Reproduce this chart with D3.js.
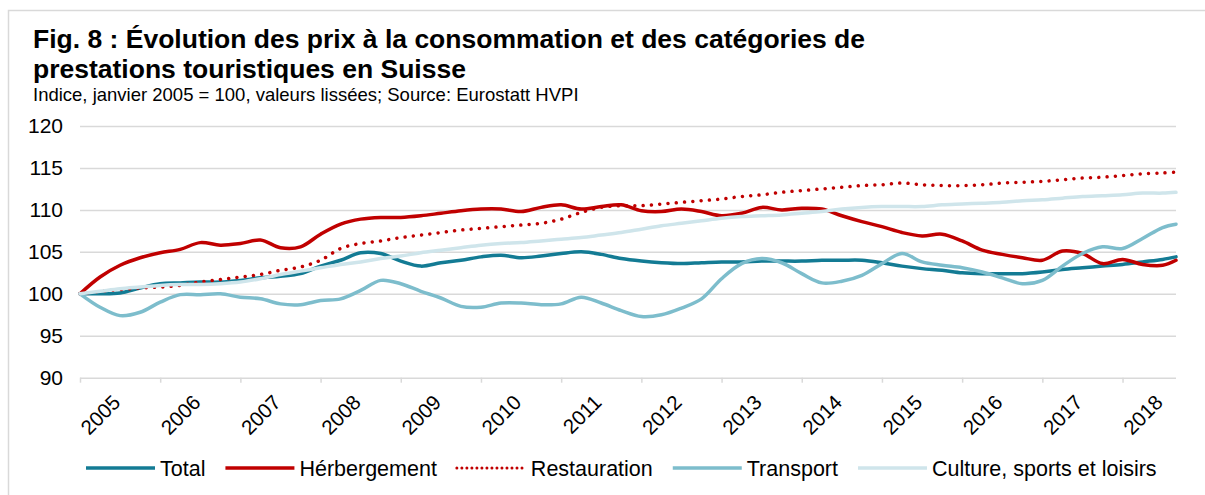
<!DOCTYPE html>
<html>
<head>
<meta charset="utf-8">
<script src="https://cdn.jsdelivr.net/npm/d3@7"></script>
<style>
  body { margin: 0; background: #fff; }
  svg { font-family: "Liberation Sans", Arial, sans-serif; }
  .grid line { stroke: #d9d9d9; stroke-width: 1.5; }
  .grid .domain { display: none; }
  .tick text { fill: #000; }
</style>
</head>
<body>
<div id="chart"></div>
<script>
//Chart data, quarterly readings (months since Jan 2005), last point Sep 2018
var months = d3.range(0, 163, 3).concat([164]);
var years = d3.range(2005, 2019);
var yTicks = [90, 95, 100, 105, 110, 115, 120];

var total = [
  100.0, 100.0, 100.1, 100.7,
  101.2, 101.3, 101.4, 101.4,
  101.6, 101.9, 102.1, 102.4,
  103.3, 104.0, 104.9, 104.8,
  103.9, 103.3, 103.7, 104.0,
  104.4, 104.6, 104.3, 104.5,
  104.8, 105.0, 104.7, 104.2,
  103.9, 103.7, 103.6, 103.7,
  103.8, 103.8, 103.9, 103.9,
  103.9, 104.0, 104.0, 104.0,
  103.7, 103.3, 103.0, 102.8,
  102.5, 102.4, 102.4, 102.4,
  102.6, 102.9, 103.1, 103.3,
  103.5, 103.8, 104.1, 104.4
];

var hebergement = [
  100.0, 102.0, 103.4, 104.3,
  104.9, 105.3, 106.1, 105.8,
  106.0, 106.4, 105.5, 105.6,
  107.1, 108.3, 108.9, 109.1,
  109.1, 109.3, 109.6, 109.9,
  110.1, 110.1, 109.8, 110.3,
  110.6, 110.1, 110.4, 110.6,
  109.9, 109.8, 110.1, 109.8,
  109.3, 109.6, 110.3, 110.0,
  110.2, 110.1, 109.3, 108.6,
  108.0, 107.3, 106.9, 107.1,
  106.3, 105.2, 104.7, 104.3,
  104.0, 105.1, 104.8, 103.6,
  104.1, 103.5, 103.4, 104.0
];

var restauration = [
  100.0, 100.3, 100.5, 100.7,
  100.8, 101.0, 101.4, 101.7,
  102.0, 102.3, 102.8, 103.2,
  104.0, 105.4, 106.0, 106.3,
  106.7, 107.0, 107.3, 107.6,
  107.8, 108.0, 108.2, 108.4,
  108.9, 109.7, 110.3, 110.5,
  110.5, 110.7, 110.9, 111.1,
  111.3, 111.6, 111.8, 112.1,
  112.3, 112.5, 112.7, 112.9,
  113.0, 113.2, 113.0, 112.9,
  112.9, 113.0, 113.2, 113.3,
  113.4, 113.6, 113.8, 113.9,
  114.1, 114.3, 114.4, 114.5
];

var transport = [
  100.0, 98.4, 97.4, 97.8,
  99.0, 99.9, 99.9, 100.0,
  99.6, 99.4, 98.8, 98.7,
  99.2, 99.4, 100.4, 101.6,
  101.2, 100.3, 99.5, 98.5,
  98.4, 98.9, 98.9, 98.7,
  98.8, 99.6, 98.9, 98.0,
  97.3, 97.5, 98.3, 99.4,
  101.8, 103.6, 104.2, 103.7,
  102.4, 101.3, 101.5, 102.2,
  103.6, 104.8, 103.8, 103.4,
  103.1, 102.6, 101.9, 101.2,
  101.6, 103.3, 104.8, 105.6,
  105.4, 106.6, 107.9, 108.3
];

var culture = [
  100.0, 100.3, 100.6, 100.8,
  101.0, 101.1, 101.1, 101.2,
  101.4, 101.8, 102.3, 102.7,
  103.1, 103.5, 103.8, 104.2,
  104.5, 104.9, 105.2, 105.5,
  105.8, 106.0, 106.1, 106.3,
  106.5, 106.7, 107.0, 107.3,
  107.7, 108.1, 108.4, 108.7,
  109.0, 109.2, 109.3, 109.4,
  109.6, 109.8, 110.1, 110.3,
  110.4, 110.4, 110.4, 110.6,
  110.7, 110.8, 110.9, 111.1,
  111.2, 111.4, 111.6, 111.7,
  111.8, 112.0, 112.0, 112.1
];

var seriesNames = ["Total", "Hérbergement", "Restauration", "Transport", "Culture, sports et loisirs"];
var seriesValues = [total, hebergement, restauration, transport, culture];
var seriesColors = ["#137b94", "#c00000", "#c00000", "#7dbdcc", "#cfe5eb"];
var seriesDotted = [false, false, true, false, false];

var series = seriesNames.map(function(name, i) {
  return {
    name: name,
    color: seriesColors[i],
    dotted: seriesDotted[i],
    values: months.map(function(m, j) { return { m: m, v: seriesValues[i][j] }; })
  };
});

//Setup SVG size vars
var W = 1205, H = 495;
var plot = { left: 80, right: 1176, top: 126, bottom: 377.7 };

var svg = d3.select("#chart").append("svg")
  .attr("width", W)
  .attr("height", H);

//Frame
svg.append("rect")
  .attr("x", 8.5).attr("y", 10.5)
  .attr("width", 1300).attr("height", 600)
  .attr("fill", "none")
  .attr("stroke", "#d9d9d9")
  .attr("stroke-width", 1.5);

//Titles
svg.append("text").attr("x", 33).attr("y", 48)
  .style("font-size", "26.5px").style("font-weight", "bold")
  .text("Fig. 8 : Évolution des prix à la consommation et des catégories de");
svg.append("text").attr("x", 33).attr("y", 78)
  .style("font-size", "26.5px").style("font-weight", "bold")
  .text("prestations touristiques en Suisse");
svg.append("text").attr("x", 33).attr("y", 101)
  .style("font-size", "18.5px")
  .text("Indice, janvier 2005 = 100, valeurs lissées; Source: Eurostatt HVPI");

var x = d3.scaleLinear().domain([0, 164]).range([plot.left, plot.right]);
var y = d3.scaleLinear().domain([90, 120]).range([plot.bottom, plot.top]);

//Y gridlines + labels
var yAxis = d3.axisLeft(y)
  .tickValues(yTicks)
  .tickSize(-(plot.right - plot.left))
  .tickPadding(17)
  .tickFormat(d3.format("d"));

svg.append("g")
  .attr("class", "grid")
  .attr("transform", "translate(" + plot.left + ",0)")
  .call(yAxis)
  .selectAll("text")
  .style("font-size", "21px");

//X axis tick marks at year boundaries
var xTicks = d3.axisBottom(x)
  .tickValues(years.map(function(yr, i) { return i * 12; }))
  .tickSize(5)
  .tickFormat("");

svg.append("g")
  .attr("class", "grid")
  .attr("transform", "translate(0," + plot.bottom + ")")
  .call(xTicks);

//Year labels centred in each year, rotated
var xLabels = d3.axisBottom(x)
  .tickValues(years.map(function(yr, i) { return i * 12 + 6; }))
  .tickSize(0)
  .tickFormat(function(d, i) { return years[i]; });

var gx = svg.append("g")
  .attr("transform", "translate(0," + plot.bottom + ")")
  .call(xLabels);
gx.select(".domain").remove();
gx.selectAll(".tick text")
  .attr("x", 0).attr("y", 0).attr("dy", 0)
  .attr("transform", "translate(1,26) rotate(-45)")
  .style("text-anchor", "end")
  .style("font-size", "20.5px");

//Lines
var line = d3.line()
  .curve(d3.curveCatmullRom.alpha(0.5))
  .x(function(d) { return x(d.m); })
  .y(function(d) { return y(d.v); });

svg.selectAll(".series")
  .data(series)
  .enter()
  .append("path")
  .attr("class", "series")
  .attr("d", function(d) { return line(d.values); })
  .attr("fill", "none")
  .attr("stroke", function(d) { return d.color; })
  .attr("stroke-width", 3.5)
  .attr("stroke-linecap", "round")
  .attr("stroke-dasharray", function(d) { return d.dotted ? "0.01 8.3" : null; });

//Legend
var legend = svg.append("g").attr("transform", "translate(86,468)");
var lx = 0;
series.forEach(function(s) {
  var item = legend.append("g").attr("transform", "translate(" + lx + ",0)");
  item.append("line")
    .attr("x1", 0).attr("x2", 69)
    .attr("stroke", s.color)
    .attr("stroke-width", s.dotted ? 3 : 3.5)
    .attr("stroke-linecap", s.dotted ? "round" : "butt")
    .attr("stroke-dasharray", s.dotted ? "0.01 5" : null);
  var t = item.append("text")
    .attr("x", 74).attr("dy", "0.35em")
    .style("font-size", "21.5px")
    .text(s.name);
  lx += 74 + t.node().getComputedTextLength() + 20;
});
</script>
</body>
</html>
